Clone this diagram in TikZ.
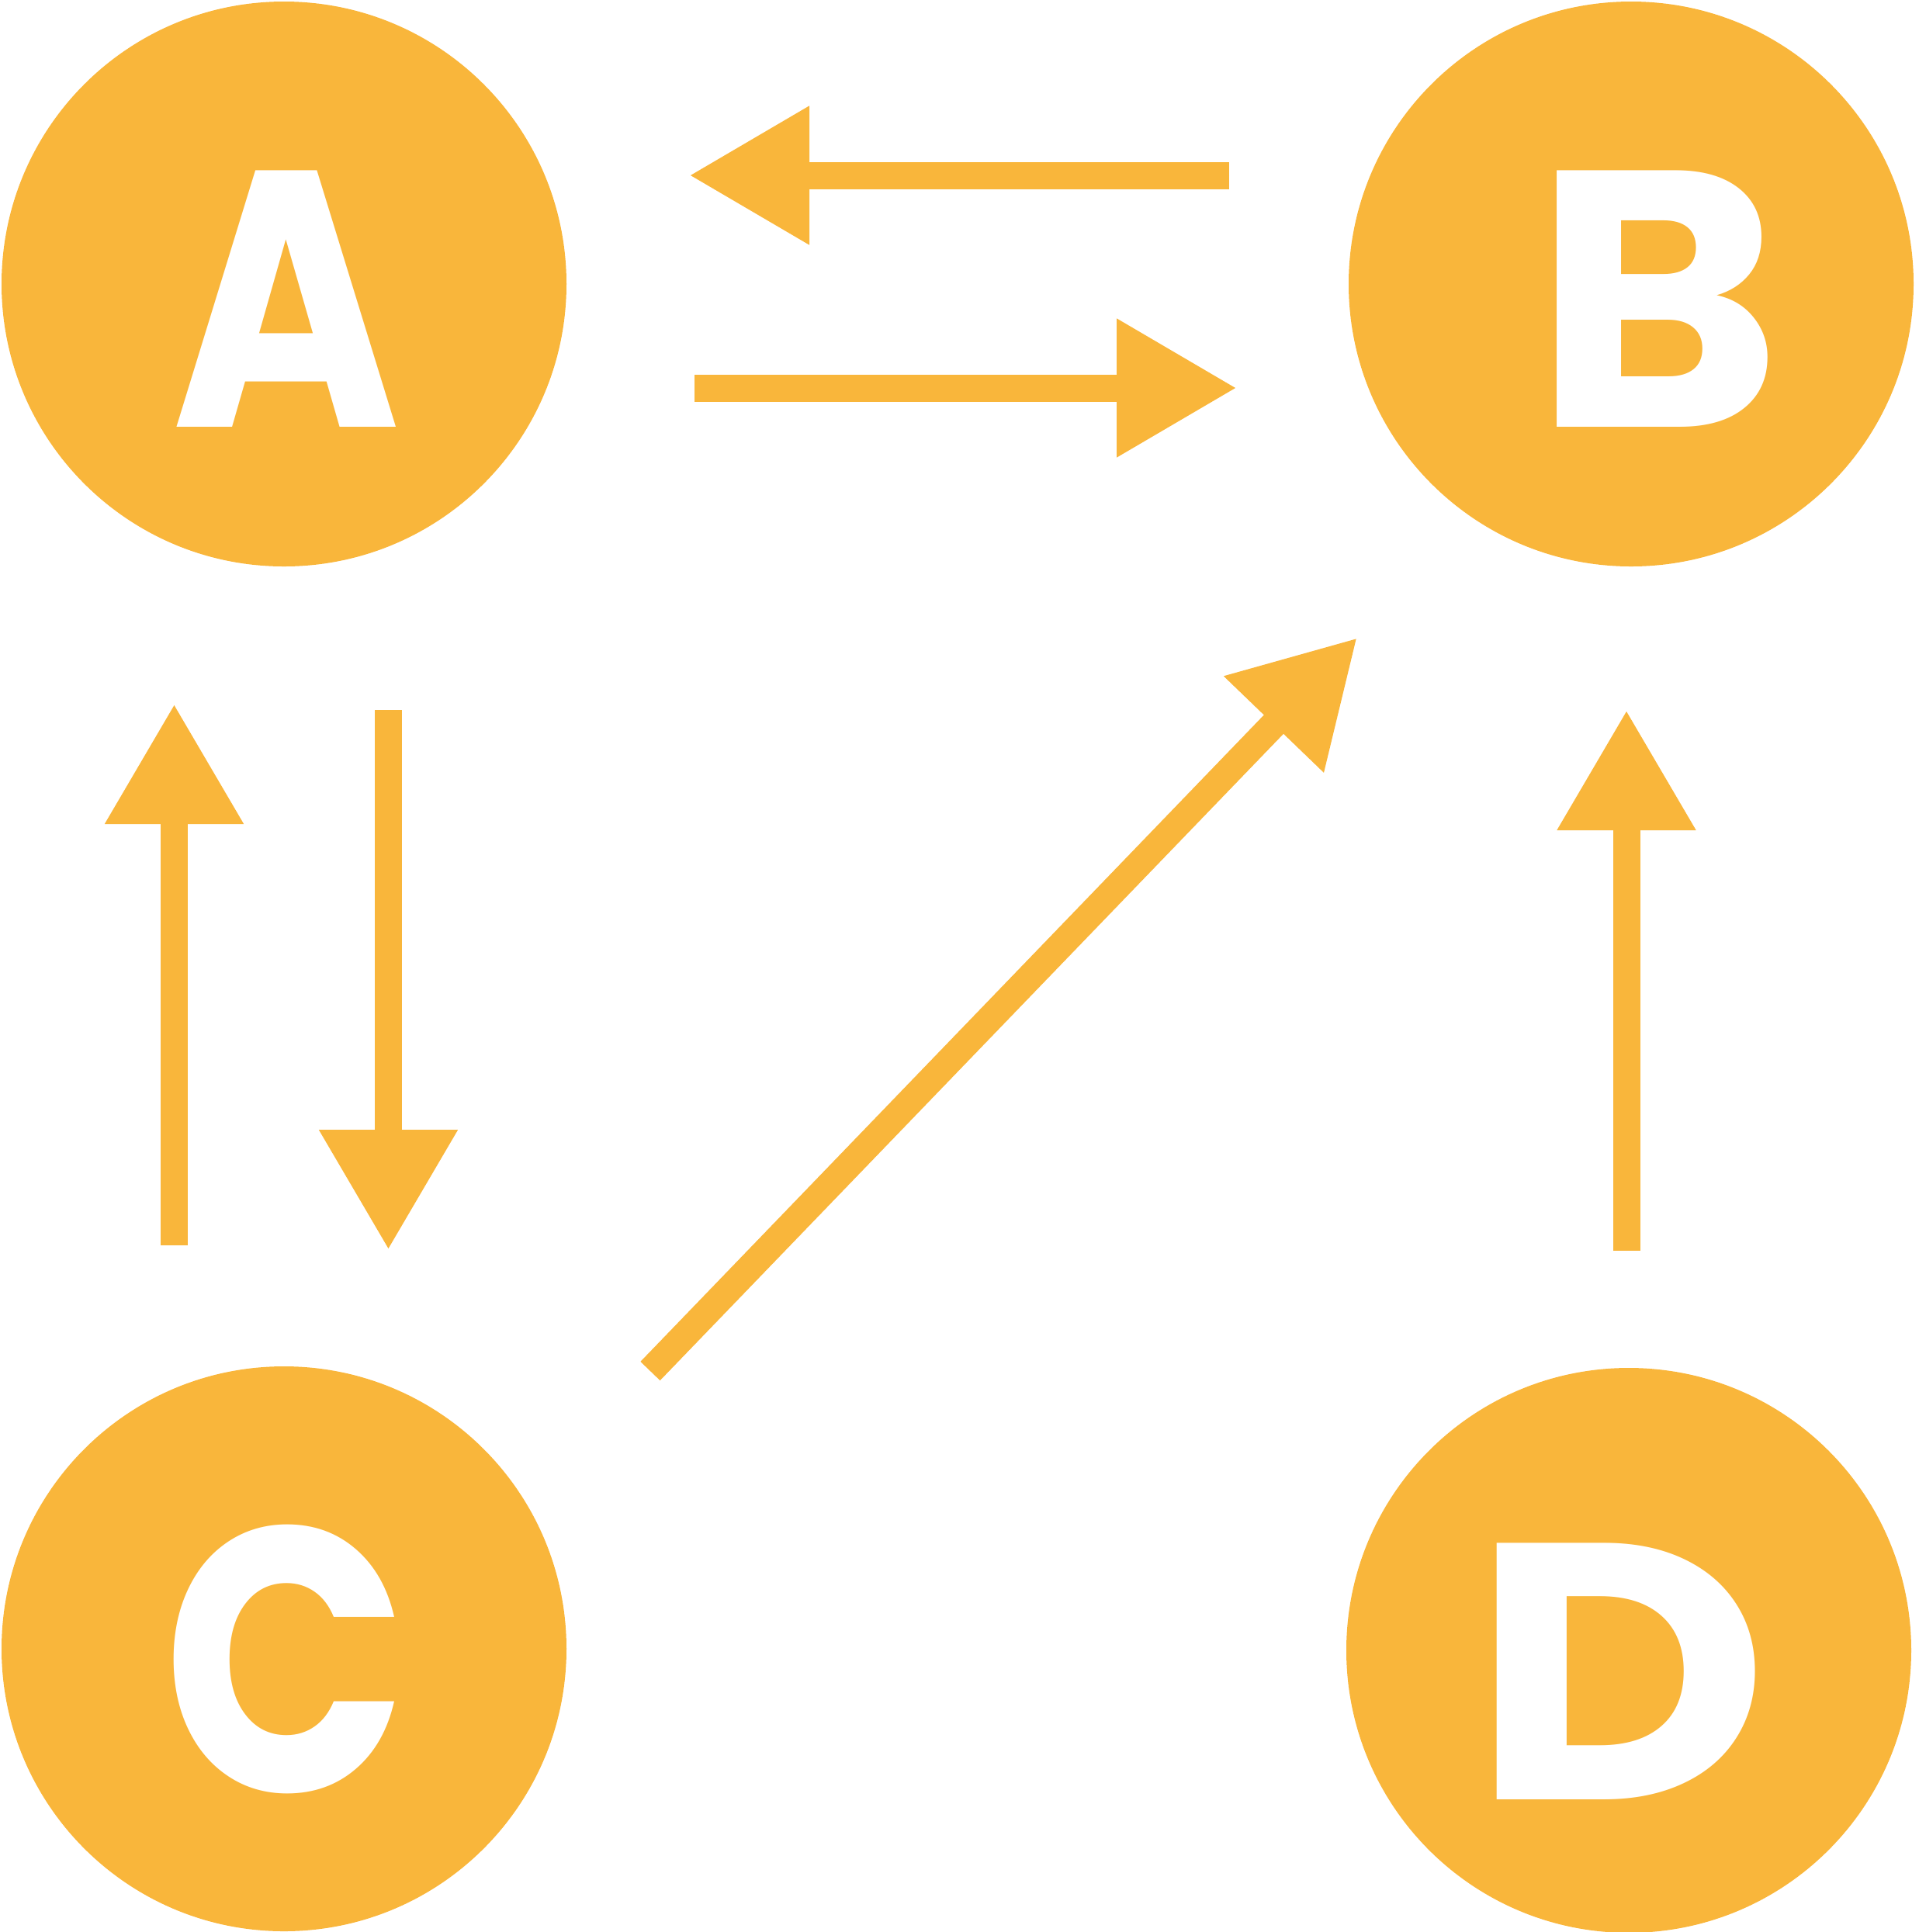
\documentclass[tikz,border=0pt]{standalone}
\usepackage{fontspec}
\newfontfamily\letterfont{Poppins}
\usetikzlibrary{arrows.meta}
\definecolor{sunorange}{RGB}{249,182,59}
\begin{document}
\begin{tikzpicture}[>={Triangle[length=1.55cm,width=1.69cm]}, line join=miter, line width=0.35cm]
	\tikzset{state/.style={circle,fill=sunorange,inner sep=0pt,outer sep=0pt,minimum size=7.28cm},
		letter/.style={text=white,inner sep=0pt,font=\letterfont\bfseries\fontsize{134}{134}\selectfont},
		link/.style={draw=sunorange,fill=sunorange,->}}
	\useasboundingbox (0,0) rectangle (24.73,-24.90);
	\node[state] (A) at (3.66,-3.66) {};
	\node[state] (B) at (21.02,-3.66) {};
	\node[state] (C) at (3.66,-21.25) {};
	\node[state] (D) at (20.99,-21.27) {};
	\node[letter,xscale=0.85] (a) at ([shift={(0.03,-0.19)}]A) {A};
	\node[letter,xscale=1.03] (b) at ([shift={(0.34,-0.19)}]B) {B};
	\node[letter,xscale=0.88,yscale=1.03] (c) at ([shift={(0.02,-0.13)}]C) {C};
	\node[letter,xscale=1.12] (d) at ([shift={(-0.11,-0.27)}]D) {D};
	\draw[link,shorten <=1.54cm,shorten >=1.58cm] ([yshift=1.40cm]B.west)--([yshift=1.40cm]A.east);
	\draw[link,shorten <=1.65cm,shorten >=1.44cm] ([yshift=-1.34cm]A.east)--([yshift=-1.34cm]B.west);
	\draw[link,shorten <=1.56cm,shorten >=1.77cm] ([xshift=-1.415cm]C.north)--([xshift=-1.415cm]A.south);
	\draw[link,shorten <=1.85cm,shorten >=1.50cm] ([xshift=1.345cm]A.south)--([xshift=1.345cm]C.north);
	\draw[link,shorten <=1.51cm,shorten >=1.85cm] ([xshift=-0.03cm]D.north)--([xshift=-0.06cm]B.south);
	\draw[link] ([shift={(4.72,3.58)}]C.center)--([shift={(-3.53,-4.56)}]B.center);
\end{tikzpicture}
\end{document}
